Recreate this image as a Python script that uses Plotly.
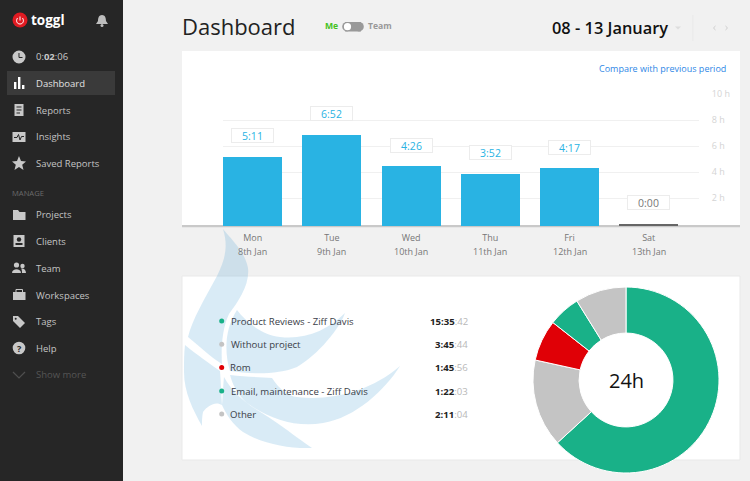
import re
import plotly.graph_objects as go

# ---------- data ----------
days = ["Mon", "Tue", "Wed", "Thu", "Fri", "Sat"]
dates = ["8th Jan", "9th Jan", "10th Jan", "11th Jan", "12th Jan", "13th Jan"]
bar_hours = [5.18, 6.87, 4.43, 3.87, 4.28, 0.0]
bar_labels = ["5:11", "6:52", "4:26", "3:52", "4:17", "0:00"]
y_ticks = [2, 4, 6, 8, 10]

projects = ["Product Reviews - Ziff Davis", "Without project", "Rom",
            "Email, maintenance - Ziff Davis", "Other"]
project_minutes = [935.7, 225.7, 105.9, 82.05, 131.07]
project_hm = ["15:35", "3:45", "1:45", "1:22", "2:11"]
project_sec = ["42", "44", "56", "03", "04"]
project_colors = ["#19b188", "#c4c4c4", "#e00006", "#19b188", "#c4c4c4"]

menu_top = ["Dashboard", "Reports", "Insights", "Saved Reports"]
menu_top_y = [83, 110, 136.5, 163]
menu_low = ["Projects", "Clients", "Team", "Workspaces", "Tags", "Help"]
menu_low_y = [214.5, 241, 268, 295, 321, 348]

# ---------- pixel helpers ----------
W, H = 750, 481
FONT = "Open Sans"
def X(p): return p / W
def Y(p): return 1 - p / H
def path(s):
    return re.sub(r"(-?\d+\.?\d*),(-?\d+\.?\d*)",
                  lambda m: f"{X(float(m[1])):.5f},{Y(float(m[2])):.5f}", s)

shapes, notes = [], []
def rect(x0, y0, x1, y1, fill, line=None):
    shapes.append(dict(type="rect", xref="paper", yref="paper", layer="below",
                       x0=X(x0), x1=X(x1), y0=Y(y0), y1=Y(y1), fillcolor=fill,
                       line=dict(width=1 if line else 0, color=line or fill)))
def circle(cx, cy, r, fill):
    shapes.append(dict(type="circle", xref="paper", yref="paper", layer="below",
                       x0=X(cx - r), x1=X(cx + r), y0=Y(cy - r), y1=Y(cy + r),
                       fillcolor=fill, line=dict(width=0)))
def svg(d, fill="rgba(0,0,0,0)", line=None, lw=1):
    shapes.append(dict(type="path", xref="paper", yref="paper", layer="below",
                       path=path(d), fillcolor=fill,
                       line=dict(width=lw if line else 0, color=line or fill)))
def text(x, y, s, size=10.5, color="#333", anchor="left", family=FONT, weight=None):
    shift = {"left": -2.5, "right": 1.5, "center": 0}[anchor]
    f = dict(family=family, size=size, color=color)
    if weight:
        f["weight"] = weight
    notes.append(dict(xref="paper", yref="paper", x=X(x + shift), y=Y(y), text=s, showarrow=False,
                      xanchor=anchor, yanchor="middle", align=anchor, font=f))

# ---------- page furniture ----------
rect(0, 0, 123, 481, "#262626")
rect(182, 51, 740, 227, "#ffffff")
rect(182, 276, 740, 460, "#ffffff", "#e9e9e9")

# watermark
WM = "rgba(42,143,206,0.18)"
svg("M223,229 C232,240 245,252 248,268 C250,285 238,302 229,314 C222,328 221,350 222,364 "
    "C212,358 200,347 188,337 C192,320 205,298 217,276 C226,258 228,245 223,229 Z", WM)
svg("M185,345 C196,354 210,364 220,371 C221,382 221,394 222,405 C216,401 208,405 203,412 "
    "C202,417 202,421 202,426 C193,410 184,392 184,372 C184,362 184,354 185,345 Z", WM)
svg("M237,310 C246,322 262,335 280,337 C305,340 328,330 345,313 C340,328 318,355 297,367 "
    "C278,375 250,374 230,371 C224,352 225,328 237,310 Z", WM)
svg("M230,375 C245,377 260,377 272,378 C280,390 288,396 297,397 C330,401 370,392 400,366 "
    "C385,390 355,418 323,423 C295,428 268,418 247,403 C238,395 233,386 230,375 Z", WM)
svg("M224,377 C232,392 245,403 262,413 C280,424 297,438 312,448 C290,449 262,444 243,432 "
    "C233,425 226,414 222,405 C223,395 223,386 224,377 Z", WM)

# baseline
rect(182, 225, 740, 227.2, "#c9c9c9")

# sidebar
rect(7, 71, 115, 95, "#3a3a3a")
circle(20, 20, 7.5, "#e01b22")
svg("M17.5,18 C15.5,21 17,24 20,24 C23,24 24.5,21 22.5,18", line="#ffffff", lw=1)
svg("M20,16.5 L20,20.5", line="#ffffff", lw=1)
text(31, 20.5, "<b>toggl</b>", 13.5, "#ffffff")
ic = "#c8c8c8"
svg("M102,15 C105,15 106,18 106,21 L108,24 L96,24 L98,21 C98,18 99,15 102,15 Z", "#bdbdbd")
circle(102, 25.5, 1.5, "#bdbdbd")
circle(19, 57, 6.5, ic)
svg("M19,53 L19,57.5 L22.5,57.5", line="#262626", lw=1)
for x0, top in ((14, 82), (18, 77), (22, 85)):
    rect(x0, top, x0 + 2.4, 89, "#ffffff")
rect(14.5, 104, 23.5, 116, ic); svg("M16.5,107 L21.5,107 M16.5,110 L21.5,110 M16.5,113 L20,113", line="#262626")
rect(12.5, 132, 25.5, 142, ic); svg("M14,137.5 L17,137.5 L18.5,134.5 L20,140 L21.5,136.5 L24,136.5", line="#262626")
svg("M19,156 L21,161 L26,161.5 L22.2,164.7 L23.5,170 L19,167 L14.5,170 L15.8,164.7 L12,161.5 L17,161 Z", ic)
svg("M13,210 L18,210 L19.5,212 L25.5,212 L25.5,220 L13,220 Z", ic)
rect(13.5, 235, 24.5, 247, ic); circle(19, 239.5, 2.2, "#262626"); rect(15.5, 243, 22.5, 245, "#262626")
circle(16.5, 265, 2.6, ic); svg("M12,273 C12,268 21,268 21,273 Z", ic)
circle(22.5, 266, 2.2, ic); svg("M22,273 C22,270 21.5,269 21,268.5 C24,268 26,270 26,273 Z", ic)
rect(13, 292, 25.5, 300, ic); svg("M16,292 L16,289.5 L22.5,289.5 L22.5,292", line=ic)
svg("M13,316 L18,316 L25,323 L20,328 L13,321 Z", ic); circle(15.7, 318.7, 1, "#262626")
circle(19, 348, 6.3, ic); text(19, 348, "<b>?</b>", 9, "#262626", "center")
svg("M13,372 L19,378 L25,372", line="#4f4f4f", lw=1.2)

SB = 9.5
text(36, 57, "0:<b>02</b>:06", SB, "#c8c8c8")
for name, y in zip(menu_top, menu_top_y):
    text(36, y, name, SB, "#e2e2e2" if name == "Dashboard" else "#c4c4c4")
text(12, 193, "MANAGE", 7.6, "#6b6b6b")
for name, y in zip(menu_low, menu_low_y):
    text(36, y, name, SB, "#c4c4c4")
text(36, 374.5, "Show more", SB, "#555555")

# header
text(182, 26, "Dashboard", 22, "#222222")
text(325, 26, "<b>Me</b>", 8.6, "#45c21f")
rect(345, 22, 361, 31.5, "#999999")
circle(347, 26.7, 4.8, "#999999"); circle(359, 26.7, 4.8, "#999999")
circle(347.5, 26.7, 3.6, "#ffffff")
text(368, 26, "<b>Team</b>", 8.6, "#999999")
text(552, 27, "08 - 13 January", 16.4, "#111111", weight=600)
svg("M675,26.5 L681,26.5 L678,29.5 Z", "#dddddd")
rect(692.6, 15, 693.2, 41, "#e3e3e3")
svg("M715.5,26 L713.5,28 L715.5,30", line="#cccccc")
svg("M725.5,26 L727.5,28 L725.5,30", line="#cccccc")
text(726.5, 69, "Compare with previous period", 9, "#2f88e6", "right")

# legend table
for name, hm, sec, col, y in zip(projects, project_hm, project_sec, project_colors,
                                 [321, 344.3, 367.6, 391, 414]):
    circle(221.7, y, 2.5, col)
    text(231, y, name, 9.6, "#3a4048")
    text(468, y, f"<b>{hm}</b><span style='color:#b8b8b8'>:{sec}</span>", 9.6, "#222222", "right")

# ---------- traces ----------
BASE = -0.185
fig = go.Figure()
fig.add_trace(go.Bar(
    x=days, y=[v - BASE for v in bar_hours], base=[BASE] * len(days),
    width=0.745,
    marker=dict(color=["#29b3e3" if v > 0 else "#666666" for v in bar_hours], line=dict(width=0)),
    showlegend=False, hoverinfo="skip",
))
fig.add_trace(go.Pie(
    values=project_minutes, labels=projects, hole=0.505, sort=False, direction="clockwise",
    rotation=0, marker=dict(colors=project_colors, line=dict(color="#ffffff", width=1)),
    textinfo="none", showlegend=False, hoverinfo="skip",
    domain=dict(x=[X(533), X(719)], y=[Y(473), Y(287)]),
))
for d, v, lab in zip(days, bar_hours, bar_labels):
    notes.append(dict(xref="x", yref="y", x=d, y=v, yanchor="bottom", yshift=14, showarrow=False,
                      text=lab, width=41, height=13, bgcolor="#ffffff", bordercolor="#ececec",
                      borderwidth=1, borderpad=0,
                      font=dict(family=FONT, size=10.5, color="#29b3e3" if v > 0 else "#777777")))
for d, lab in zip(days, dates):
    notes.append(dict(xref="x", yref="paper", x=d, y=Y(251), yanchor="middle", showarrow=False,
                      text=lab, font=dict(family=FONT, size=9, color="#777777")))
text(626, 380, "24h", 20, "#111111", "center")

fig.update_layout(
    width=W, height=H, margin=dict(l=0, r=0, t=0, b=0, autoexpand=False), autosize=False,
    paper_bgcolor="#f1f1f1", plot_bgcolor="rgba(0,0,0,0)",
    shapes=shapes, annotations=notes, bargap=0,
    font=dict(family=FONT),
    xaxis=dict(domain=[X(223), X(699)], range=[-0.375, 5.635], type="category",
               tickmode="array", tickvals=days, ticktext=days, automargin=False,
               tickfont=dict(size=9, color="#777777"), ticks="outside", ticklen=2,
               tickcolor="rgba(0,0,0,0)", showgrid=False, zeroline=False, showline=False),
    yaxis=dict(domain=[Y(226.7), Y(94.3)], range=[BASE, 10], side="right", tickmode="array",
               tickvals=y_ticks, ticktext=[f"{t} h" for t in y_ticks], automargin=False,
               tickfont=dict(size=9, color="#d4d4d4"), ticks="outside", ticklen=10,
               tickcolor="rgba(0,0,0,0)", showgrid=True, gridcolor="#f0f0f0", gridwidth=1,
               zeroline=False, showline=False),
)
fig.write_html("out.html", config=dict(displayModeBar=False),
               post_script="document.body.style.margin='0';document.body.style.overflow='hidden';")
